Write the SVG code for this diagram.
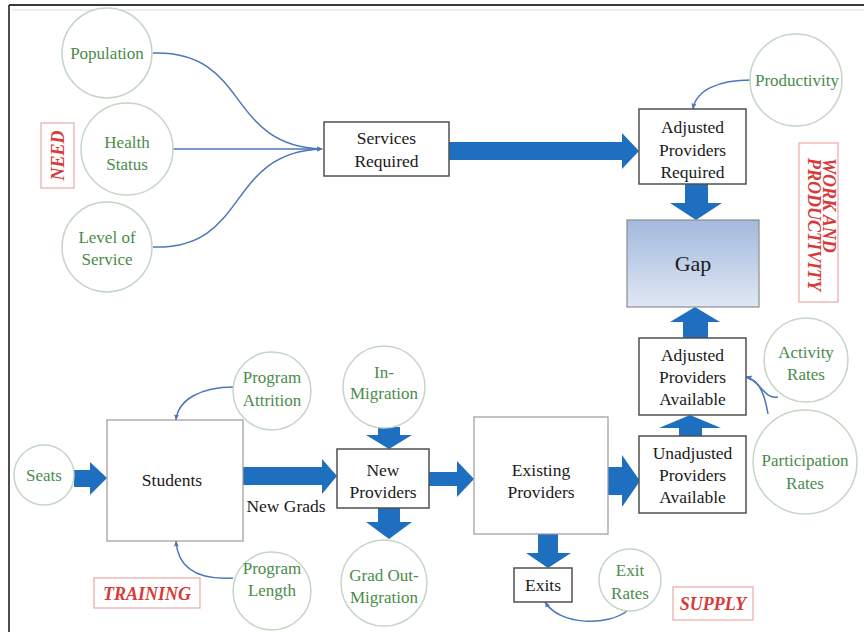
<svg xmlns="http://www.w3.org/2000/svg" width="864" height="632" viewBox="0 0 864 632">
<defs>
<linearGradient id="gapGrad" x1="0" y1="0" x2="0" y2="1">
<stop offset="0" stop-color="#a3b9de"/>
<stop offset="1" stop-color="#dfe7f3"/>
</linearGradient>
<marker id="ah" viewBox="0 0 10 10" refX="9" refY="5" markerWidth="6" markerHeight="6" orient="auto" markerUnits="userSpaceOnUse">
<path d="M0,1 L10,5 L0,9 Z" fill="#4a78b8"/>
</marker>
</defs>
<style>
.circ{fill:#ffffff;stroke:#c4d6c4;stroke-width:1.5}
.ct{font-family:"Liberation Serif","Times New Roman",serif;font-size:17px;fill:#4b8b4b;text-anchor:middle}
.box{fill:#ffffff;stroke:#505050;stroke-width:1.5}
.bigbox{fill:#ffffff;stroke:#9a9a9a;stroke-width:1.2}
.bt{font-family:"Liberation Serif","Times New Roman",serif;font-size:17.5px;fill:#1a1a1a;text-anchor:middle}
.lab{fill:#ffffff;stroke:#e9a8a8;stroke-width:1.2}
.lt{font-family:"Liberation Serif","Times New Roman",serif;font-size:18px;font-weight:bold;font-style:italic;fill:#d83a3a}
.blk{fill:#1f6fc0}
.thin{fill:none;stroke:#4a78b8;stroke-width:1.5}
</style>
<rect x="0" y="0" width="864" height="632" fill="#ffffff"/>
<g id="frame">
<line x1="9" y1="5" x2="864" y2="5" stroke="#3a3a3a" stroke-width="1.8"/>
<line x1="9" y1="5" x2="9" y2="632" stroke="#3a3a3a" stroke-width="1.8"/>
<line x1="12" y1="10" x2="864" y2="10" stroke="#e8e8e8" stroke-width="1.5"/>
</g>
<g id="connectors">
<path class="thin" d="M153,53 C250,50 225,146 322,149" marker-end="url(#ah)"/>
<path class="thin" d="M173,149 L322,149" marker-end="url(#ah)"/>
<path class="thin" d="M153,247 C250,250 225,152 322,149" marker-end="url(#ah)"/>
<path class="thin" d="M752,80 C718,80 696,90 693,109" marker-end="url(#ah)"/>
<path class="thin" d="M778,397 C764,400 760,380 746,377" marker-end="url(#ah)"/>
<path class="thin" d="M768,414 C765,396 760,380 746,377" marker-end="url(#ah)"/>
<path class="thin" d="M627,611 C608,626 560,626 545,602" marker-end="url(#ah)"/>
<path class="thin" d="M234,387 C200,387 178,400 176,420" marker-end="url(#ah)"/>
<path class="thin" d="M233,578 C200,580 178,570 176,541" marker-end="url(#ah)"/>
<polygon class="blk" points="449,142 622,142 622,133 639,151 622,169 622,160 449,160"/>
<polygon class="blk" points="685,184 708,184 708,203 722,203 696,220 670,203 685,203"/>
<polygon class="blk" points="683,338 708,338 708,322 720,322 695,307 670,322 683,322"/>
<polygon class="blk" points="679,436 702,436 702,428 721,428 690,415 659,428 679,428"/>
<polygon class="blk" points="608,467 622,467 622,455 640,481 622,507 622,495 608,495"/>
<polygon class="blk" points="429,472 457,472 457,461 474,479 457,497 457,486 429,486"/>
<polygon class="blk" points="243,467 322,467 322,459 337,476 322,494 322,485 243,485"/>
<polygon class="blk" points="74,470 90,470 90,462 107,478 90,495 90,487 74,487"/>
<polygon class="blk" points="378,427 400,427 400,435 412,435 389,449 366,435 378,435"/>
<polygon class="blk" points="378,508 400,508 400,522 412,522 389,539 366,522 378,522"/>
<polygon class="blk" points="538,534 558,534 558,553 571,553 548,568 526,553 538,553"/>
</g>
<g id="population"><circle class="circ" cx="107" cy="53" r="45"/><text class="ct" x="107" y="59">Population</text></g>
<g id="health-status"><circle class="circ" cx="127" cy="149" r="46"/><text class="ct" x="127" y="148">Health</text><text class="ct" x="127" y="170">Status</text></g>
<g id="level-of-service"><circle class="circ" cx="107" cy="247" r="45"/><text class="ct" x="107" y="243">Level of</text><text class="ct" x="107" y="265">Service</text></g>
<g id="need-label"><rect class="lab" x="41" y="123" width="33" height="65"/><text class="lt" x="0" y="0" text-anchor="middle" transform="translate(63.5,155.5) rotate(-90)">NEED</text></g>
<g id="services-required"><rect class="box" x="324" y="122" width="125" height="54"/><text class="bt" x="386.5" y="144">Services</text><text class="bt" x="386.5" y="167">Required</text></g>
<g id="adjusted-providers-required"><rect class="box" x="639" y="109" width="107" height="75"/><text class="bt" x="692.5" y="133">Adjusted</text><text class="bt" x="692.5" y="156">Providers</text><text class="bt" x="692.5" y="178">Required</text></g>
<g id="productivity"><circle class="circ" cx="796" cy="80" r="46"/><text class="ct" x="797" y="86">Productivity</text></g>
<g id="gap"><rect x="627" y="220" width="132" height="87" fill="url(#gapGrad)" stroke="#8c8c8c" stroke-width="1.2"/><text class="bt" x="693" y="271" style="font-size:22px">Gap</text></g>
<g id="work-productivity-label"><rect class="lab" x="799" y="143" width="39" height="159"/><text class="lt" transform="translate(823,158) rotate(90)">WORK AND</text><text class="lt" transform="translate(808,158) rotate(90)">PRODUCTIVITY</text></g>
<g id="adjusted-providers-available"><rect class="box" x="639" y="338" width="107" height="77"/><text class="bt" x="692.5" y="361">Adjusted</text><text class="bt" x="692.5" y="383">Providers</text><text class="bt" x="692.5" y="405">Available</text></g>
<g id="unadjusted-providers-available"><rect class="box" x="639" y="436" width="107" height="77"/><text class="bt" x="692.5" y="459">Unadjusted</text><text class="bt" x="692.5" y="481">Providers</text><text class="bt" x="692.5" y="503">Available</text></g>
<g id="activity-rates"><circle class="circ" cx="806" cy="360" r="42"/><text class="ct" x="806" y="358">Activity</text><text class="ct" x="806" y="380">Rates</text></g>
<g id="participation-rates"><circle class="circ" cx="805" cy="462" r="52"/><text class="ct" x="805" y="466">Participation</text><text class="ct" x="805" y="489">Rates</text></g>
<g id="existing-providers"><rect class="bigbox" x="474" y="417" width="134" height="117"/><text class="bt" x="541" y="476">Existing</text><text class="bt" x="541" y="498">Providers</text></g>
<g id="exits"><rect class="box" x="514" y="568" width="58" height="34"/><text class="bt" x="543" y="591">Exits</text></g>
<g id="exit-rates"><circle class="circ" cx="630" cy="580" r="31"/><text class="ct" x="630" y="576">Exit</text><text class="ct" x="630" y="599">Rates</text></g>
<g id="supply-label"><rect class="lab" x="673" y="587" width="80" height="33"/><text class="lt" x="713" y="610" text-anchor="middle">SUPPLY</text></g>
<g id="seats"><circle class="circ" cx="44" cy="475" r="30"/><text class="ct" x="44" y="481">Seats</text></g>
<g id="students"><rect class="bigbox" x="107" y="420" width="136" height="121"/><text class="bt" x="172" y="486">Students</text></g>
<g id="program-attrition"><circle class="circ" cx="272" cy="391" r="39"/><text class="ct" x="272" y="383">Program</text><text class="ct" x="272" y="406">Attrition</text></g>
<g id="program-length"><circle class="circ" cx="272" cy="591" r="39"/><text class="ct" x="272" y="574">Program</text><text class="ct" x="272" y="596">Length</text></g>
<g id="training-label"><rect class="lab" x="94" y="578" width="106" height="30"/><text class="lt" x="147" y="600" text-anchor="middle">TRAINING</text></g>
<g id="in-migration"><circle class="circ" cx="384" cy="387" r="41"/><text class="ct" x="384" y="378">In-</text><text class="ct" x="384" y="399">Migration</text></g>
<g id="new-providers"><rect class="box" x="337" y="449" width="92" height="59"/><text class="bt" x="383" y="476">New</text><text class="bt" x="383" y="498">Providers</text></g>
<g id="grad-out-migration"><circle class="circ" cx="384" cy="583" r="43"/><text class="ct" x="384" y="581">Grad Out-</text><text class="ct" x="384" y="603">Migration</text></g>
<g id="new-grads-label"><text class="bt" x="286" y="512">New Grads</text></g>
</svg>
